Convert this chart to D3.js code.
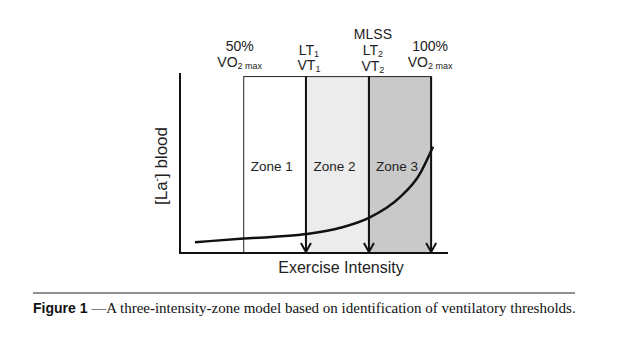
<!DOCTYPE html>
<html>
<head>
<meta charset="utf-8">
<script src="https://cdn.jsdelivr.net/npm/d3@7"></script>
<style>
  body { margin: 0; background: #fff; }
  svg { display: block; }
</style>
</head>
<body>
<div id="chart"></div>
<script>
// Data (intensity in % VO2max, lactate in arbitrary units)
const zones = ["Zone 1", "Zone 2", "Zone 3"];
const zoneBounds = [50, 66.6, 83.4, 100];
const zoneFills = ["#ffffff", "#ececec", "#c9c9c9"];
const thresholds = [66.6, 83.4, 100];
const curveIntensity = [37, 50, 66.6, 75.8, 83.4, 91.7, 97, 100.5];
const curveLactate = [0.6, 0.8, 1.05, 1.4, 1.95, 3.1, 4.4, 5.9];

const width = 626, height = 351;
const svg = d3.select("#chart").append("svg")
  .attr("width", width).attr("height", height);

const x = d3.scaleLinear().domain([33, 104.5]).range([180, 448]);
const y = d3.scaleLinear().domain([0, 10]).range([253, 73]);
const font = "'Liberation Sans', Arial, sans-serif";

// zone rectangles
svg.append("g").selectAll("rect")
  .data(zones)
  .join("rect")
  .attr("x", (d, i) => x(zoneBounds[i]))
  .attr("width", (d, i) => x(zoneBounds[i + 1]) - x(zoneBounds[i]))
  .attr("y", y(9.8))
  .attr("height", y(0) - y(9.8))
  .attr("fill", (d, i) => zoneFills[i])
  .attr("stroke", "#222").attr("stroke-width", 1);

// zone labels
svg.append("g").selectAll("text")
  .data(zones)
  .join("text")
  .attr("x", (d, i) => (x(zoneBounds[i]) + x(zoneBounds[i + 1])) / 2 - 3)
  .attr("y", 171)
  .attr("text-anchor", "middle")
  .attr("font-family", font).attr("font-size", 13.5).attr("fill", "#222")
  .text(d => d);

// threshold arrows
const arrows = svg.append("g");
thresholds.forEach(t => {
  const ax = x(t);
  arrows.append("line")
    .attr("x1", ax).attr("x2", ax)
    .attr("y1", y(9.8)).attr("y2", y(0) - 1)
    .attr("stroke", "#111").attr("stroke-width", 2);
  arrows.append("path")
    .attr("d", `M${ax - 5},${y(0) - 10} L${ax},${y(0) - 1} L${ax + 5},${y(0) - 10}`)
    .attr("fill", "none").attr("stroke", "#111").attr("stroke-width", 2);
});

// lactate curve
const pts = curveIntensity.map((v, i) => [v, curveLactate[i]]);
svg.append("path")
  .attr("d", d3.line().x(d => x(d[0])).y(d => y(d[1])).curve(d3.curveMonotoneX)(pts))
  .attr("fill", "none").attr("stroke", "#111").attr("stroke-width", 2.5);

// axes
svg.append("line").attr("x1", 180).attr("x2", 180).attr("y1", y(10)).attr("y2", y(0) + 1)
  .attr("stroke", "#111").attr("stroke-width", 2);
svg.append("line").attr("x1", 179).attr("x2", 448).attr("y1", y(0)).attr("y2", y(0))
  .attr("stroke", "#111").attr("stroke-width", 2);

// axis labels
svg.append("text")
  .attr("transform", `translate(167,166) rotate(-90)`)
  .attr("text-anchor", "middle")
  .attr("font-family", font).attr("font-size", 17).attr("fill", "#222")
  .call(t => {
    t.append("tspan").text("[La");
    t.append("tspan").attr("font-size", 10).attr("dy", -7).text("-");
    t.append("tspan").attr("dy", 7).text("] blood");
  });

svg.append("text")
  .attr("x", 341).attr("y", 273)
  .attr("text-anchor", "middle")
  .attr("font-family", font).attr("font-size", 16).attr("fill", "#222")
  .text("Exercise Intensity");

// top labels
function label(cx, yy, main, sub) {
  const t = svg.append("text")
    .attr("x", cx).attr("y", yy)
    .attr("text-anchor", "middle")
    .attr("font-family", font).attr("font-size", 14).attr("fill", "#222");
  t.append("tspan").text(main);
  if (sub) {
    t.append("tspan").attr("font-size", 9).attr("dy", 2).text(sub);
  }
}
const topLabels = [
  { at: 50, lines: [["50%"], ["VO", "2 max"]], base: 51, gap: 16, dx: -4 },
  { at: 66.6, lines: [["LT", "1"], ["VT", "1"]], base: 55, gap: 15, dx: 3 },
  { at: 83.4, lines: [["MLSS"], ["LT", "2"], ["VT", "2"]], base: 39, gap: 16, dx: 4 },
  { at: 100, lines: [["100%"], ["VO", "2 max"]], base: 51, gap: 16, dx: -1 }
];
topLabels.forEach(l => {
  l.lines.forEach((ln, j) => label(x(l.at) + l.dx, l.base + j * l.gap, ln[0], ln[1]));
});

// caption
svg.append("line").attr("x1", 33).attr("x2", 575).attr("y1", 293).attr("y2", 293)
  .attr("stroke", "#222").attr("stroke-width", 1);
const cap = svg.append("text").attr("x", 33).attr("y", 313).attr("fill", "#111");
cap.append("tspan").attr("font-family", font).attr("font-weight", "bold").attr("font-size", 14)
  .text("Figure 1");
cap.append("tspan").attr("font-family", "'Liberation Serif', 'Times New Roman', serif").attr("font-size", 15)
  .text(" \u2014A three-intensity-zone model based on identification of ventilatory thresholds.");
</script>
</body>
</html>
